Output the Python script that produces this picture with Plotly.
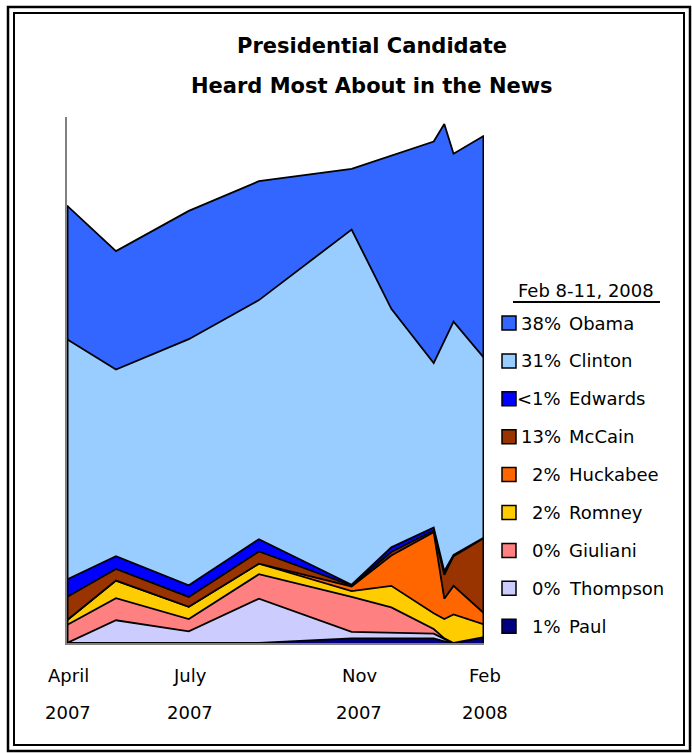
import plotly.graph_objects as go

# ---------------- data ----------------
dates = ["2007-04-01", "2007-05-08", "2007-07-02", "2007-08-24", "2007-11-02",
         "2007-12-02", "2008-01-03", "2008-01-11", "2008-01-18", "2008-02-10"]

paul     = [0.0, 0.0, 0.0, 0.0, 0.8, 0.8, 0.8, 0.3, 0.0, 1.0]
thompson = [0.0, 3.9, 2.0, 7.6, 1.1, 1.0, 0.8, 0.4, 0.0, 0.0]
giuliani = [3.1, 3.8, 2.1, 4.2, 6.0, 4.3, 0.8, 0.1, 0.0, 0.0]
romney   = [0.8, 3.0, 2.1, 1.8, 1.0, 3.7, 2.7, 3.3, 4.9, 2.2]
huckabee = [0.0, 0.0, 0.0, 0.0, 0.8, 5.2, 13.9, 3.5, 4.9, 1.9]
mccain   = [4.0, 2.0, 1.7, 2.1, 0.15, 0.6, 0.3, 4.1, 5.1, 12.9]
edwards  = [3.0, 2.2, 2.0, 2.1, 0.15, 0.8, 0.5, 0.6, 0.2, 0.1]
clinton  = [41.2, 32.0, 42.2, 41.0, 60.9, 40.9, 28.2, 39.5, 40.0, 30.8]
obama    = [22.9, 20.3, 22.0, 20.4, 10.4, 26.3, 38.0, 37.2, 28.8, 38.1]

# legend (top to bottom)
legend_names = ["Obama", "Clinton", "Edwards", "McCain", "Huckabee",
                "Romney", "Giuliani", "Thompson", "Paul"]
legend_pcts = ["38%", "31%", "<1%", "13%", "2%", "2%", "0%", "0%", "1%"]
legend_title = "Feb 8-11, 2008"

tick_dates = ["2007-04-01", "2007-07-02", "2007-11-07", "2008-02-10"]
tick_months = ["April", "July", "Nov", "Feb"]
tick_years = ["2007", "2007", "2007", "2008"]

title_lines = ["Presidential Candidate", "Heard Most About in the News"]

# ---------------- style ----------------
colors = {
    "Obama": "#3366FF", "Clinton": "#99CCFF", "Edwards": "#0000FF",
    "McCain": "#993300", "Huckabee": "#FF6600", "Romney": "#FFCC00",
    "Giuliani": "#FF8080", "Thompson": "#CCCCFF", "Paul": "#000080",
}
FONT = "DejaVu Sans"
W, H = 692, 753
ML, MR, MT, MB = 67, 208, 117, 110
PW, PH = W - ML - MR, H - MT - MB


def xp(px):
    return (px - ML) / PW


def yp(py):
    return (H - MB - py) / PH


series = [("Paul", paul), ("Thompson", thompson), ("Giuliani", giuliani),
          ("Romney", romney), ("Huckabee", huckabee), ("McCain", mccain),
          ("Edwards", edwards), ("Clinton", clinton), ("Obama", obama)]

fig = go.Figure()
for name, vals in series:
    fig.add_trace(go.Scatter(
        x=dates, y=vals, name=name, mode="lines", stackgroup="one",
        fillcolor=colors[name], line=dict(color="black", width=1.8),
        showlegend=False, hoverinfo="skip"))

totals = [sum(v[i] for _, v in series) for i in range(len(dates))]
for idx in (0, -1):
    fig.add_trace(go.Scatter(
        x=[dates[idx], dates[idx]], y=[0, totals[idx]], mode="lines",
        line=dict(color="black", width=3), showlegend=False, hoverinfo="skip"))

annotations = []
shapes = []

# title
for i, t in enumerate(title_lines):
    annotations.append(dict(text="<b>" + t + "</b>", x=xp(372), y=yp(46 + 40 * i),
                            xref="paper", yref="paper",
                            showarrow=False, xanchor="center", yanchor="middle",
                            font=dict(family=FONT, size=21, color="black")))

# x labels
for d, m, yv in zip(tick_dates, tick_months, tick_years):
    annotations.append(dict(text=m, x=d, y=yp(675), xref="x", yref="paper",
                            showarrow=False, xanchor="center", yanchor="middle", xshift=1,
                            font=dict(family=FONT, size=18, color="black")))
    annotations.append(dict(text=yv, x=d, y=yp(712), xref="x", yref="paper",
                            showarrow=False, xanchor="center", yanchor="middle", xshift=1,
                            font=dict(family=FONT, size=18, color="black")))

# legend
annotations.append(dict(text=legend_title, x=xp(586), y=yp(290), xref="paper", yref="paper",
                        showarrow=False, xanchor="center", yanchor="middle",
                        font=dict(family=FONT, size=18, color="black")))
shapes.append(dict(type="line", xref="paper", yref="paper", x0=xp(513), x1=xp(660),
                   y0=yp(302), y1=yp(302), line=dict(color="black", width=2)))
for i, (nm, pc) in enumerate(zip(legend_names, legend_pcts)):
    cy = 323 + 37.9 * i
    shapes.append(dict(type="rect", xref="paper", yref="paper",
                       x0=xp(502), x1=xp(516), y0=yp(cy - 7), y1=yp(cy + 7),
                       fillcolor=colors[nm], line=dict(color="black", width=1.5)))
    annotations.append(dict(text=pc, x=xp(563), y=yp(cy), xref="paper", yref="paper",
                            showarrow=False, xanchor="right", yanchor="middle",
                            font=dict(family=FONT, size=18, color="black")))
    annotations.append(dict(text=nm, x=xp(567), y=yp(cy), xref="paper", yref="paper",
                            showarrow=False, xanchor="left", yanchor="middle",
                            font=dict(family=FONT, size=18, color="black")))

# double frame
shapes.append(dict(type="rect", xref="paper", yref="paper", x0=xp(8), x1=xp(690),
                   y0=yp(751), y1=yp(7), line=dict(color="black", width=2.5)))
shapes.append(dict(type="rect", xref="paper", yref="paper", x0=xp(14), x1=xp(684),
                   y0=yp(745), y1=yp(13), line=dict(color="black", width=2)))

fig.update_layout(
    width=W, height=H, margin=dict(l=ML, r=MR, t=MT, b=MB),
    paper_bgcolor="white", plot_bgcolor="white",
    font=dict(family=FONT, color="black"),
    xaxis=dict(type="date", range=[dates[0], dates[-1]], showgrid=False, zeroline=False,
               showticklabels=False, ticks="", showline=True, linecolor="#808080", linewidth=2),
    yaxis=dict(range=[0, 90.2], showgrid=False, zeroline=False, showticklabels=False,
               ticks="", showline=True, linecolor="#808080", linewidth=2),
    annotations=annotations, shapes=shapes, showlegend=False,
)

fig.write_html("out.html", config={"displayModeBar": False},
               post_script="document.body.style.margin='0';document.body.style.overflow='hidden';")
